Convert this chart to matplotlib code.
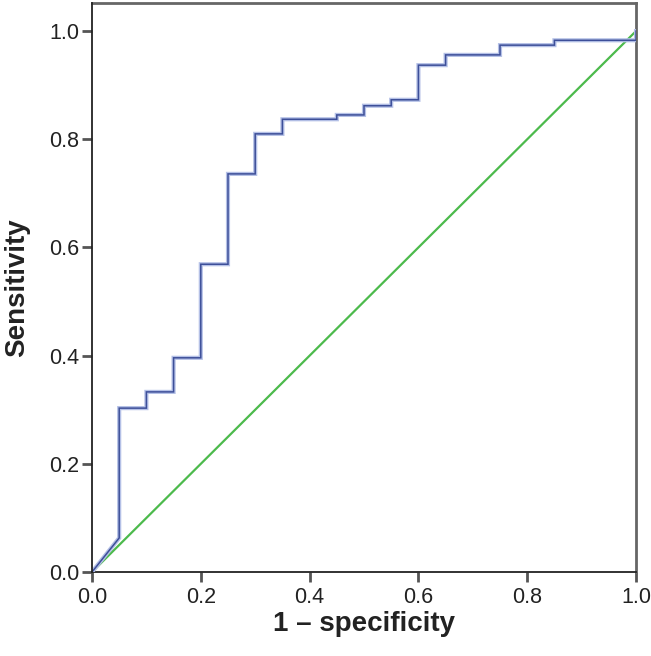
import matplotlib
matplotlib.use("Agg")
import matplotlib.pyplot as plt

plt.rcParams['font.family'] = ['Liberation Sans', 'DejaVu Sans']

# ROC curve points (1 - specificity, sensitivity)
fpr = [0.0, 0.05, 0.05, 0.10, 0.10, 0.15, 0.15, 0.20, 0.20, 0.25, 0.25, 0.30, 0.30,
       0.35, 0.35, 0.45, 0.45, 0.50, 0.50, 0.55, 0.55, 0.60, 0.60, 0.65, 0.65,
       0.75, 0.75, 0.85, 0.85, 1.00, 1.00]
tpr = [0.0, 0.063, 0.303, 0.303, 0.333, 0.333, 0.396, 0.396, 0.569, 0.569, 0.736, 0.736, 0.810,
       0.810, 0.837, 0.837, 0.845, 0.845, 0.862, 0.862, 0.873, 0.873, 0.937, 0.937, 0.956,
       0.956, 0.974, 0.974, 0.983, 0.983, 1.00]
ref_x = [0.0, 1.0]
ref_y = [0.0, 1.0]
ticks = [0.0, 0.2, 0.4, 0.6, 0.8, 1.0]
tick_labels = ["0.0", "0.2", "0.4", "0.6", "0.8", "1.0"]

fig = plt.figure(figsize=(6.51, 6.56), dpi=100)
ax = fig.add_axes([0.1413, 0.128, 0.8357, 0.8675])

ax.plot(ref_x, ref_y, color='#4cba4c', lw=1.6, zorder=2)
ax.plot(fpr, tpr, color='#b4c0e6', lw=3.0, zorder=3, solid_joinstyle='miter')
ax.plot(fpr, tpr, color='#3d4f99', lw=1.1, zorder=4, solid_joinstyle='miter')

ax.set_xlim(0, 1.0)
ax.set_ylim(0, 1.052)
ax.set_xticks(ticks)
ax.set_xticklabels(tick_labels)
ax.set_yticks(ticks)
ax.set_yticklabels(tick_labels)
ax.tick_params(axis='both', labelsize=15.5, length=7, width=2, color='#555555',
               labelcolor='#222222', pad=2)
ax.tick_params(axis='x', pad=4)

for s in ['left', 'bottom']:
    ax.spines[s].set_color('#222222')
    ax.spines[s].set_linewidth(1.3)
for s in ['top', 'right']:
    ax.spines[s].set_color('#666666')
    ax.spines[s].set_linewidth(2)
ax.spines['left'].set_zorder(5)

ax.set_xlabel('1 – specificity', fontsize=20, fontweight='bold', color='#222222', labelpad=2)
ax.set_ylabel('Sensitivity', fontsize=20, fontweight='bold', color='#222222', labelpad=14)

fig.savefig('out.png', dpi=100, facecolor='white')
